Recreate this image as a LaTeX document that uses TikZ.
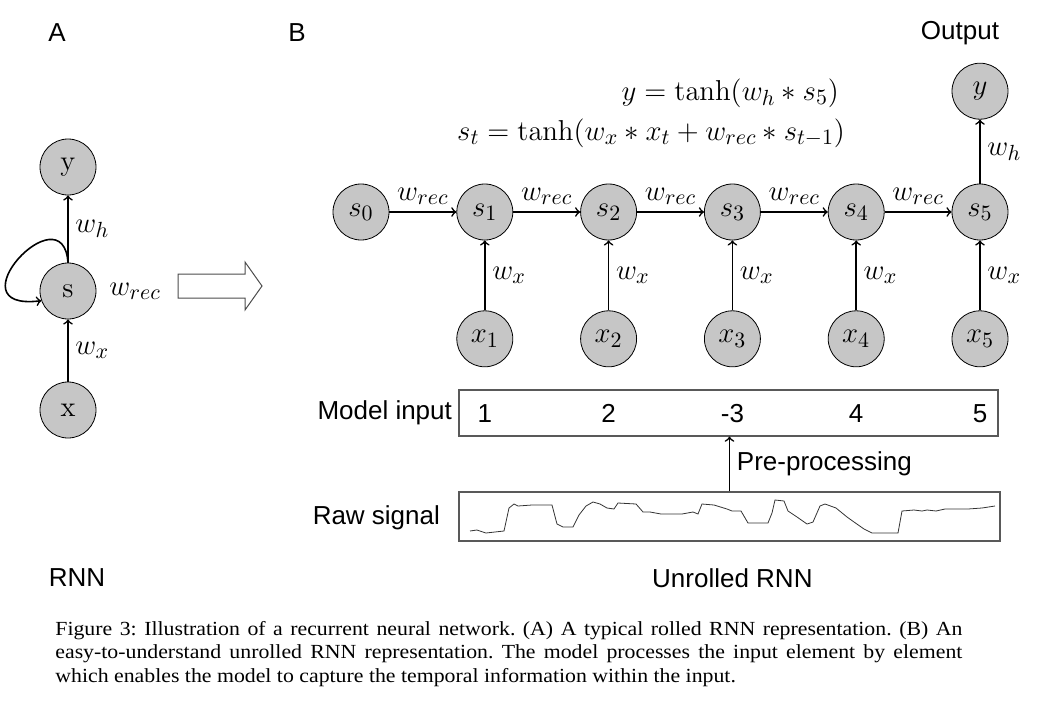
\documentclass[tikz,border=0pt]{standalone}
\usepackage{amsmath}
\usepackage[no-math]{fontspec}
\setmainfont{Liberation Serif}
\setsansfont{Liberation Sans}
\newfontfamily\capfont[FakeStretch=1.09]{Liberation Serif}
\DeclareMathSizes{14}{14}{10.5}{8}
\usetikzlibrary{positioning}
\begin{document}
\begin{tikzpicture}[x=0.5pt,y=-0.5pt]
\tikzstyle{unit}=[circle,draw,fill=gray!45,minimum size=28pt,inner sep=0pt,font=\fontsize{14}{16}\selectfont]
\tikzstyle{conn}=[->,line width=0.8pt]
\tikzstyle{lbl}=[font=\sffamily\fontsize{13}{15}\selectfont]
\tikzstyle{num}=[lbl,text height=9.3pt,text depth=0pt]
\tikzstyle{wlab}=[font=\fontsize{14}{16}\selectfont]
\tikzstyle{strip}=[draw=gray!70!black,line width=0.6pt,inner sep=0pt]
\useasboundingbox (0,0) rectangle (1044,707);

% A: rolled RNN
\node[unit] (ry) at (68,167) {$\mathrm{y}$};
\node[unit] (rs) at (68,291) {$\mathrm{s}$};
\node[unit] (rx) at (68,410) {$\mathrm{x}$};
\draw[conn] (rx) -- node[right,wlab] {$w_x$} (rs);
\draw[conn] (rs) -- node[right,wlab] {$w_h$} (ry);
\draw[conn] (rs.north) .. controls (63,190) and (-50,312) .. (rs.200);
\node[wlab,right=3pt of rs] {$w_{rec}$};
\draw[line width=0.5pt,draw=gray!60!black] (178,274) -- (245,274) -- (245,262) -- (262,286)
  -- (245,310) -- (245,298) -- (178,298) -- cycle;

% B: unrolled RNN
\node[unit] (s0) at (361,212) {$s_0$};
\node[unit,right=33.5pt of s0] (s1) {$s_1$};
\node[unit,right=33.5pt of s1] (s2) {$s_2$};
\node[unit,right=33.5pt of s2] (s3) {$s_3$};
\node[unit,right=33.5pt of s3] (s4) {$s_4$};
\node[unit,right=33.5pt of s4] (s5) {$s_5$};
\node[unit,below=35pt of s1] (x1) {$x_1$};
\node[unit,below=35pt of s2] (x2) {$x_2$};
\node[unit,below=35pt of s3] (x3) {$x_3$};
\node[unit,below=35pt of s4] (x4) {$x_4$};
\node[unit,below=35pt of s5] (x5) {$x_5$};
\node[unit,above=32pt of s5] (y) {$y$};
\draw[conn] (s0) -- node[above,wlab] {$w_{rec}$} (s1);
\draw[conn] (s1) -- node[above,wlab] {$w_{rec}$} (s2);
\draw[conn] (s2) -- node[above,wlab] {$w_{rec}$} (s3);
\draw[conn] (s3) -- node[above,wlab] {$w_{rec}$} (s4);
\draw[conn] (s4) -- node[above,wlab] {$w_{rec}$} (s5);
\draw[conn] (x1) -- node[right,wlab] {$w_x$} (s1);
\draw[conn] (x2) -- node[right,wlab] {$w_x$} (s2);
\draw[conn] (x3) -- node[right,wlab] {$w_x$} (s3);
\draw[conn] (x4) -- node[right,wlab] {$w_x$} (s4);
\draw[conn] (x5) -- node[right,wlab] {$w_x$} (s5);
\draw[conn] (s5) -- node[right,wlab] {$w_h$} (y);
\node[wlab,anchor=east] (eqy) at (846,93) {$y=\tanh(w_h*s_5)$};
\node[wlab,anchor=east] (eqs) at (852,133) {$s_t=\tanh(w_x*x_t+w_{rec}*s_{t-1})$};

% input strip and raw signal
\node[strip,minimum width=269.5pt,minimum height=23pt] (inp) at (728.5,413) {};
\node[strip,minimum width=270.5pt,minimum height=24.5pt] (raw) at (729.5,516.5) {};
\node[lbl,anchor=east] at (459,413) {Model input};
\node[lbl,anchor=east] at (447,518) {Raw signal};
\node[num] at (x1 |- inp) {1};
\node[num] at (x2 |- inp) {2};
\node[num] at (x3 |- inp) {-3};
\node[num] at (x4 |- inp) {4};
\node[num] at (x5 |- inp) {5};
\draw[conn] (raw.north) -- node[right,lbl] {Pre-processing} (raw.north |- inp.south);
\draw[line width=0.4pt,gray!40!black] (470,531) -- (477,530) -- (486,533) -- (504,531) -- (509,508)
  -- (514,504) -- (518,506) -- (532,505) -- (552,505) -- (557,524) -- (563,527) -- (573,527)
  -- (579,515) -- (586,506) -- (593,502) -- (600,504) -- (607,508) -- (614,509) -- (618,503)
  -- (636,504) -- (643,512) -- (650,512) -- (661,514) -- (682,514) -- (693,512) -- (698,514)
  -- (702,504) -- (714,505) -- (727,509) -- (732,511) -- (741,511) -- (748,523) -- (768,523)
  -- (772,513) -- (775,500) -- (784,501) -- (788,511) -- (797,517) -- (807,524) -- (813,522)
  -- (820,506) -- (825,504) -- (836,508) -- (847,517) -- (854,522) -- (864,529) -- (872,533)
  -- (898,533) -- (902,511) -- (914,510) -- (922,511) -- (927,510) -- (936,511) -- (945,509)
  -- (968,509) -- (982,508) -- (995,506);

% panel labels
\node[lbl] at (57,33) {A};
\node[lbl] at (297,33) {B};
\node[lbl] at (960,33) {Output};
\node[lbl] at (77,578) {RNN};
\node[lbl] at (x3 |- 0,578) {Unrolled RNN};

% caption
\node[anchor=north west,inner sep=0pt,text width=453.5pt,align=justify,
  font=\capfont\fontsize{10}{11.75}\selectfont\frenchspacing] (cap) at (55,621)
  {Figure 3: Illustration of a recurrent neural network. (A) A typical rolled RNN representation. (B) An\linebreak
  easy-to-understand unrolled RNN representation. The model processes the input element by element\linebreak
  which enables the model to capture the temporal information within the input.\hspace*{\fill}};
\end{tikzpicture}
\end{document}
